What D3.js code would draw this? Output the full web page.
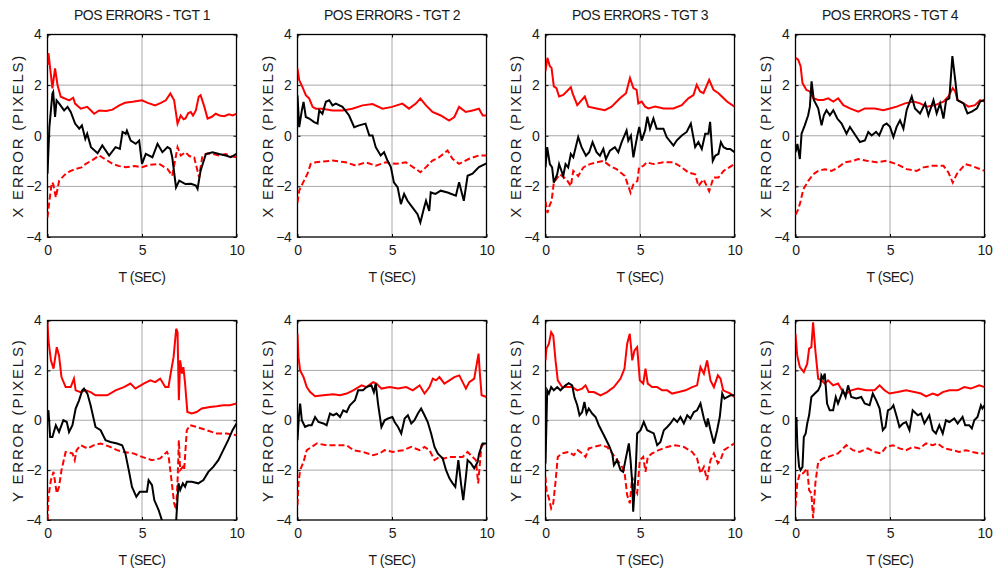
<!DOCTYPE html>
<html>
<head>
<meta charset="utf-8">
<script src="https://cdn.jsdelivr.net/npm/d3@7"></script>
<style>
  body { margin: 0; background: #fff; }
  text { font-family: "Liberation Sans", Arial, sans-serif; fill: #1a1a1a; }
</style>
</head>
<body>
<svg id="chart" width="994" height="579"></svg>
<script>
// titles / labels / ticks
const titles = ["POS ERRORS - TGT 1", "POS ERRORS - TGT 2", "POS ERRORS - TGT 3", "POS ERRORS - TGT 4"];
const yLabels = ["X ERROR (PIXELS)", "Y ERROR (PIXELS)"];
const xLabel = "T (SEC)";
const xTicks = [0, 5, 10];
const yTicks = [-4, -2, 0, 2, 4];

// series: [t (sec), error (pixels)]
// --- X errors ---
const x1Upper = [[0,2.8],[0.05,3.26],[0.26,1.87],[0.4,2.66],[0.53,2.0],[0.7,1.54],[1.15,1.4],[1.36,1.5],[1.46,1.27],[1.76,1.07],[2.1,1.14],[2.3,1.0],[2.47,0.87],[2.73,1.0],[3.1,0.98],[3.44,1.03],[3.8,1.2],[4.1,1.3],[4.5,1.34],[5.0,1.4],[5.3,1.3],[5.7,1.2],[6.0,1.3],[6.26,1.4],[6.5,1.67],[6.7,1.4],[6.88,0.48],[7.05,0.8],[7.2,0.65],[7.3,0.68],[7.45,0.9],[7.58,0.94],[7.7,0.8],[7.85,1.0],[8.0,1.54],[8.1,1.6],[8.3,1.14],[8.47,0.68],[8.7,0.75],[8.9,0.87],[9.1,0.8],[9.35,0.77],[9.6,0.85],[9.8,0.8],[10,0.87]];
const x1Lower = [[0,-3.23],[0.1,-2.57],[0.23,-1.84],[0.3,-1.9],[0.44,-2.44],[0.62,-1.77],[0.97,-1.5],[1.2,-1.4],[1.5,-1.31],[1.8,-1.25],[2.03,-1.11],[2.4,-0.95],[2.73,-0.78],[3.1,-0.95],[3.44,-1.11],[3.8,-1.2],[4.14,-1.24],[4.6,-1.2],[5.0,-1.24],[5.4,-1.15],[5.9,-1.11],[6.35,-1.31],[6.6,-1.58],[6.88,-0.45],[7.05,-0.78],[7.3,-0.65],[7.5,-0.8],[7.76,-0.85],[8.02,-1.64],[8.2,-0.78],[8.45,-0.7],[8.73,-0.72],[9.1,-0.78],[9.43,-0.72],[9.7,-0.8],[10,-0.85]];
const x1Err = [[0,-1.5],[0.1,0.34],[0.26,1.67],[0.3,1.73],[0.4,0.74],[0.48,1.4],[0.62,1.27],[0.88,1.0],[1.06,1.14],[1.23,0.94],[1.46,0.48],[1.68,0.28],[1.82,0.41],[2.0,-0.12],[2.1,0.08],[2.3,-0.45],[2.65,-0.69],[2.9,-0.38],[3.26,-0.78],[3.6,-0.45],[3.83,-0.52],[3.97,0.15],[4.14,0.08],[4.2,0.2],[4.4,-0.19],[4.67,-0.32],[4.85,-0.19],[5.0,-1.11],[5.2,-0.72],[5.55,-0.85],[5.82,-0.32],[6.08,-0.65],[6.35,-0.45],[6.5,-0.52],[6.6,-0.85],[6.8,-2.04],[6.97,-1.77],[7.3,-1.91],[7.6,-1.9],[7.85,-1.97],[7.94,-2.1],[8.1,-1.38],[8.38,-0.72],[8.73,-0.65],[9.08,-0.72],[9.43,-0.78],[9.7,-0.85],[10,-0.72]];

const x2Upper = [[0,2.66],[0.09,2.2],[0.26,1.93],[0.44,1.6],[0.62,1.47],[0.8,1.14],[0.97,1.07],[1.32,1.07],[1.85,1.0],[2.38,1.0],[2.9,1.07],[3.44,1.2],[3.97,1.25],[4.5,1.07],[5.0,1.14],[5.55,1.27],[5.9,1.07],[6.26,1.27],[6.5,1.47],[6.8,1.2],[7.14,0.94],[7.58,0.8],[8.02,0.6],[8.3,0.74],[8.55,1.14],[8.9,0.94],[9.26,1.0],[9.6,1.07],[9.8,0.8],[10,0.8]];
const x2Lower = [[0,-2.64],[0.09,-2.17],[0.26,-1.9],[0.53,-1.5],[0.7,-1.11],[0.97,-1.05],[1.85,-0.98],[2.56,-1.05],[3.09,-1.18],[3.6,-1.05],[4.14,-1.18],[4.67,-1.05],[5.2,-1.11],[5.73,-1.05],[6.26,-1.31],[6.5,-1.44],[6.8,-1.24],[7.14,-0.98],[7.5,-0.85],[7.94,-0.58],[8.2,-0.91],[8.55,-1.11],[9.08,-0.91],[9.6,-0.78],[10,-0.78]];
const x2Err = [[0,1.6],[0.09,0.34],[0.23,1.0],[0.32,1.34],[0.44,0.74],[0.62,0.68],[0.88,0.54],[1.06,0.48],[1.15,1.0],[1.32,0.87],[1.5,1.34],[1.68,1.4],[1.85,1.2],[2.03,1.27],[2.38,1.14],[2.73,0.8],[3.0,0.34],[3.26,0.41],[3.6,0.48],[3.8,0.01],[3.97,0.01],[4.14,-0.45],[4.4,-0.78],[4.58,-0.65],[4.76,-0.98],[4.94,-1.24],[5.1,-1.84],[5.3,-2.04],[5.47,-2.7],[5.64,-2.3],[5.82,-2.57],[6.08,-2.83],[6.35,-3.1],[6.5,-3.43],[6.7,-2.83],[6.8,-2.57],[6.97,-2.97],[7.05,-2.24],[7.3,-2.3],[7.58,-2.17],[7.94,-2.24],[8.38,-2.37],[8.55,-1.84],[8.8,-2.57],[9.0,-1.58],[9.26,-1.5],[9.6,-1.24],[10,-1.09]];

const x3Upper = [[0,2.55],[0.1,3.08],[0.23,2.75],[0.32,2.68],[0.44,1.95],[0.58,1.88],[0.72,1.55],[0.94,1.61],[1.2,1.81],[1.34,1.92],[1.43,1.68],[1.68,1.21],[2.08,1.55],[2.26,1.15],[2.7,1.08],[3.14,1.01],[3.5,1.15],[3.94,1.48],[4.26,1.68],[4.47,2.28],[4.65,1.88],[4.82,1.81],[4.91,1.28],[5.09,1.35],[5.27,1.15],[5.44,1.08],[5.8,1.15],[6.24,1.08],[6.77,1.08],[7.21,1.21],[7.56,1.48],[7.83,1.61],[8.0,2.01],[8.18,1.75],[8.36,1.68],[8.66,2.21],[8.89,1.81],[9.15,1.68],[9.33,1.55],[9.6,1.35],[10,1.15]];
const x3Lower = [[0,-2.59],[0.1,-3.05],[0.23,-2.72],[0.32,-2.59],[0.44,-1.85],[0.76,-1.52],[1.11,-1.72],[1.34,-1.99],[1.47,-1.39],[1.73,-1.59],[2.0,-1.25],[2.35,-1.12],[2.7,-1.05],[3.06,-0.99],[3.41,-1.19],[3.76,-1.32],[4.2,-1.59],[4.5,-2.25],[4.65,-1.92],[4.86,-1.79],[4.95,-1.25],[5.18,-1.19],[5.35,-1.05],[5.71,-1.12],[6.24,-1.05],[6.77,-1.05],[7.21,-1.25],[7.56,-1.45],[7.92,-1.52],[8.09,-1.99],[8.36,-1.72],[8.66,-2.19],[8.89,-1.65],[9.15,-1.65],[9.42,-1.39],[10,-1.12]];
const x3Err = [[0,-1.25],[0.09,-0.45],[0.23,-1.12],[0.35,-1.25],[0.44,-1.85],[0.62,-1.52],[0.72,-1.12],[0.94,-1.59],[1.06,-1.12],[1.2,-1.25],[1.34,-0.72],[1.47,-0.85],[1.73,-0.05],[1.91,-0.45],[2.14,-0.79],[2.31,-0.65],[2.49,-0.25],[2.7,-0.65],[2.88,-0.79],[3.06,-0.52],[3.2,-0.92],[3.41,-0.59],[3.67,-0.45],[3.85,-0.65],[4.03,-0.25],[4.29,0.21],[4.38,-0.19],[4.52,0.01],[4.65,-0.85],[4.73,-0.52],[4.86,0.01],[4.96,0.35],[5.09,-0.19],[5.27,0.21],[5.39,0.75],[5.53,0.28],[5.71,0.68],[5.88,0.28],[6.24,0.28],[6.41,-0.05],[6.77,-0.39],[6.94,-0.19],[7.21,0.01],[7.47,0.15],[7.69,0.48],[7.92,-0.45],[8.09,-0.25],[8.27,-0.52],[8.45,0.08],[8.62,0.08],[8.71,0.55],[8.85,-0.99],[8.98,-0.79],[9.15,-0.72],[9.28,-0.25],[9.42,-0.45],[9.6,-0.52],[9.77,-0.52],[10,-0.65]];

const x4Upper = [[0,3.08],[0.14,3.01],[0.27,2.75],[0.37,2.08],[0.58,1.81],[0.76,1.75],[0.94,1.48],[1.2,1.41],[1.47,1.41],[1.73,1.48],[2.0,1.35],[2.26,1.48],[2.53,1.21],[2.88,1.08],[3.32,0.95],[3.67,1.08],[4.2,1.08],[4.65,1.01],[5.0,1.08],[5.35,1.15],[5.8,1.28],[6.24,1.35],[6.59,1.28],[6.94,1.15],[7.39,1.21],[7.83,1.35],[8.09,1.55],[8.32,1.88],[8.45,1.75],[8.57,1.41],[8.89,1.28],[9.15,1.15],[9.5,1.21],[9.77,1.41],[10,1.35]];
const x4Lower = [[0,-3.12],[0.14,-2.92],[0.27,-2.59],[0.41,-2.12],[0.67,-1.79],[0.94,-1.52],[1.2,-1.39],[1.55,-1.32],[1.91,-1.39],[2.26,-1.25],[2.61,-1.05],[3.06,-0.99],[3.32,-0.92],[3.76,-0.99],[4.29,-1.05],[4.82,-0.99],[5.35,-1.12],[5.88,-1.32],[6.41,-1.39],[6.77,-1.25],[7.21,-1.19],[7.83,-1.19],[8.09,-1.45],[8.32,-1.85],[8.53,-1.52],[8.98,-1.12],[9.33,-1.19],[9.77,-1.32],[10,-1.39]];
const x4Err = [[0,-0.65],[0.1,-0.32],[0.23,-0.92],[0.32,0.08],[0.49,0.41],[0.67,0.81],[0.76,1.15],[0.85,2.15],[0.97,1.41],[1.2,1.08],[1.38,0.41],[1.5,0.81],[1.64,1.01],[1.82,0.81],[2.0,1.01],[2.21,0.68],[2.44,0.48],[2.7,0.08],[2.88,0.35],[3.23,-0.05],[3.41,-0.25],[3.67,-0.19],[3.85,0.15],[4.03,0.01],[4.26,0.15],[4.43,0.01],[4.65,0.41],[4.82,0.48],[5.0,0.35],[5.18,-0.05],[5.35,0.35],[5.53,0.61],[5.71,0.28],[5.88,1.01],[6.15,1.55],[6.32,1.08],[6.59,0.88],[6.86,1.28],[7.03,0.81],[7.3,1.41],[7.47,0.88],[7.65,1.28],[7.83,0.68],[7.97,1.41],[8.14,1.48],[8.3,3.15],[8.45,2.21],[8.57,1.41],[8.89,1.28],[9.1,0.88],[9.33,0.95],[9.6,1.08],[9.77,1.35],[10,1.41]];

// --- Y errors ---
const y1Upper = [[0,3.93],[0.05,3.2],[0.18,2.4],[0.32,2.07],[0.49,2.93],[0.61,2.6],[0.74,1.73],[0.96,1.33],[1.23,1.33],[1.4,1.67],[1.49,1.2],[1.75,1.13],[2.02,1.2],[2.28,1.13],[2.54,1.0],[2.81,1.0],[3.16,1.0],[3.6,1.2],[4.04,1.33],[4.39,1.47],[4.65,1.27],[5.09,1.47],[5.44,1.6],[5.7,1.53],[5.96,1.67],[6.23,1.33],[6.4,1.33],[6.53,1.93],[6.67,2.53],[6.81,3.67],[6.88,3.53],[6.95,0.8],[7.02,2.4],[7.12,1.87],[7.19,2.13],[7.28,1.47],[7.4,0.33],[7.63,0.27],[7.89,0.33],[8.16,0.47],[8.6,0.53],[8.95,0.56],[9.3,0.6],[9.65,0.6],[10,0.67]];
const y1Lower = [[0,-4.0],[0.05,-3.07],[0.18,-2.4],[0.32,-2.07],[0.49,-2.93],[0.61,-2.67],[0.74,-2.0],[0.96,-1.27],[1.32,-1.33],[1.44,-1.6],[1.54,-1.2],[1.75,-1.0],[2.11,-1.13],[2.46,-1.0],[2.81,-0.93],[3.33,-1.07],[3.68,-1.2],[4.04,-1.27],[4.56,-1.33],[5.0,-1.47],[5.53,-1.6],[5.96,-1.53],[6.32,-1.27],[6.4,-1.4],[6.58,-2.53],[6.7,-3.33],[6.81,-3.6],[6.89,-2.27],[6.95,-0.8],[7.02,-2.0],[7.16,-1.87],[7.23,-2.0],[7.37,-0.4],[7.54,-0.2],[7.89,-0.27],[8.42,-0.4],[8.95,-0.53],[9.47,-0.53],[10,-0.6]];
const y1Err = [[0,0.27],[0.05,0.4],[0.14,-0.67],[0.26,-0.67],[0.44,-0.2],[0.61,-0.47],[0.84,0.0],[1.02,-0.07],[1.14,-0.47],[1.32,-0.2],[1.49,0.47],[1.67,0.8],[1.84,1.2],[1.93,1.27],[2.11,1.07],[2.28,0.6],[2.54,-0.27],[2.81,-0.4],[3.07,-0.8],[3.33,-0.87],[3.68,-0.93],[3.95,-1.0],[4.12,-1.33],[4.3,-2.0],[4.47,-2.67],[4.7,-3.07],[4.88,-2.87],[5.09,-2.87],[5.26,-2.87],[5.35,-2.4],[5.53,-2.6],[5.65,-3.2],[5.88,-3.6],[6.05,-4.0],[6.3,-4.6],[6.6,-4.8],[6.81,-4.0],[6.93,-2.53],[7.02,-2.8],[7.16,-2.53],[7.28,-2.67],[7.37,-2.47],[7.63,-2.47],[7.98,-2.53],[8.25,-2.4],[8.51,-2.07],[8.77,-1.87],[9.04,-1.6],[9.3,-1.2],[9.56,-0.8],[9.79,-0.4],[10,-0.13]];

const y2Upper = [[0,3.47],[0.05,2.53],[0.14,2.0],[0.32,1.73],[0.49,1.33],[0.67,1.13],[0.93,0.96],[1.37,1.0],[1.89,1.04],[2.25,1.0],[2.6,1.07],[2.95,1.2],[3.39,1.4],[3.65,1.33],[4.0,1.53],[4.18,1.47],[4.44,1.27],[4.88,1.33],[5.32,1.27],[5.75,1.33],[6.1,1.2],[6.46,1.4],[6.72,1.07],[6.98,1.33],[7.16,1.67],[7.33,1.6],[7.51,1.73],[7.77,1.47],[8.04,1.6],[8.3,1.73],[8.56,1.8],[8.74,1.53],[8.91,1.27],[9.09,1.53],[9.35,1.67],[9.58,2.67],[9.65,1.87],[9.74,1.0],[10,0.93]];
const y2Lower = [[0,-3.4],[0.05,-2.53],[0.14,-2.0],[0.32,-1.67],[0.49,-1.2],[0.75,-1.07],[1.02,-0.93],[1.54,-1.0],[2.07,-1.0],[2.6,-1.0],[2.95,-1.2],[3.47,-1.27],[4.0,-1.4],[4.35,-1.33],[4.61,-1.2],[5.05,-1.27],[5.58,-1.2],[6.02,-1.07],[6.46,-1.2],[6.72,-1.07],[6.98,-1.2],[7.25,-1.6],[7.51,-1.47],[7.77,-1.53],[8.04,-1.47],[8.39,-1.47],[8.74,-1.47],[9.0,-1.27],[9.26,-1.47],[9.44,-1.6],[9.56,-2.53],[9.65,-1.73],[9.74,-1.0],[10,-0.93]];
const y2Err = [[0,-0.8],[0.07,0.13],[0.14,0.67],[0.23,0.0],[0.4,-0.27],[0.58,-0.2],[0.75,-0.2],[0.93,0.13],[1.11,-0.07],[1.37,-0.13],[1.54,-0.2],[1.72,0.27],[1.89,0.2],[2.07,0.27],[2.25,0.13],[2.42,0.4],[2.6,0.33],[2.77,0.6],[3.04,0.8],[3.21,1.2],[3.47,1.2],[3.65,1.33],[3.91,1.4],[4.04,1.13],[4.14,1.47],[4.26,0.67],[4.44,-0.27],[4.61,0.0],[4.79,0.07],[5.02,0.13],[5.14,-0.07],[5.32,-0.27],[5.49,-0.53],[5.67,0.07],[5.84,0.2],[6.02,-0.13],[6.19,0.0],[6.37,0.27],[6.54,0.47],[6.72,0.2],[6.89,-0.07],[7.07,-0.53],[7.25,-1.07],[7.42,-1.33],[7.68,-1.53],[7.86,-2.0],[8.04,-2.33],[8.21,-2.53],[8.35,-2.67],[8.51,-1.6],[8.65,-2.53],[8.77,-3.2],[8.91,-2.27],[9.0,-1.6],[9.18,-1.73],[9.35,-1.93],[9.53,-1.67],[9.61,-1.33],[9.79,-0.93],[10,-0.93]];

const y3Upper = [[0,2.4],[0.05,2.87],[0.18,3.07],[0.3,3.53],[0.41,3.4],[0.53,2.4],[0.65,1.6],[0.88,1.33],[1.15,1.33],[1.41,1.33],[1.68,1.2],[1.94,1.27],[2.12,1.4],[2.29,1.13],[2.56,1.13],[2.91,1.0],[3.26,1.13],[3.62,1.33],[3.97,1.67],[4.18,2.07],[4.32,3.07],[4.46,3.47],[4.59,2.4],[4.71,2.8],[4.85,2.93],[4.99,1.6],[5.17,1.47],[5.29,2.07],[5.41,1.47],[5.64,1.33],[5.91,1.33],[6.17,1.2],[6.44,1.2],[6.7,1.07],[7.05,1.13],[7.41,1.2],[7.76,1.33],[8.02,1.4],[8.2,2.13],[8.38,1.87],[8.55,2.4],[8.73,1.6],[8.91,1.33],[9.12,1.8],[9.26,1.67],[9.4,1.2],[9.61,1.13],[9.79,1.07],[10,0.93]];
const y3Lower = [[0,-2.27],[0.05,-2.8],[0.18,-3.13],[0.3,-3.53],[0.41,-3.33],[0.53,-2.47],[0.65,-1.47],[0.88,-1.33],[1.23,-1.27],[1.5,-1.4],[1.71,-1.2],[1.94,-1.33],[2.12,-1.47],[2.29,-1.13],[2.56,-1.07],[2.91,-1.0],[3.26,-1.07],[3.53,-1.33],[3.79,-1.6],[4.0,-1.8],[4.18,-2.07],[4.32,-3.0],[4.46,-3.33],[4.59,-2.27],[4.71,-2.73],[4.85,-2.93],[4.99,-1.6],[5.17,-1.47],[5.29,-2.07],[5.41,-1.47],[5.64,-1.33],[5.99,-1.2],[6.44,-1.07],[6.88,-1.0],[7.32,-1.07],[7.76,-1.27],[8.02,-1.53],[8.2,-2.13],[8.38,-1.87],[8.55,-2.4],[8.73,-1.6],[8.91,-1.33],[9.12,-1.73],[9.26,-1.6],[9.44,-1.2],[9.7,-1.07],[10,-0.93]];
const y3Err = [[0,-1.73],[0.09,1.2],[0.18,1.07],[0.3,1.33],[0.44,1.2],[0.62,1.33],[0.79,1.2],[1.06,1.4],[1.23,1.49],[1.41,1.4],[1.53,0.93],[1.68,0.6],[1.8,0.2],[1.94,0.33],[2.06,0.73],[2.17,0.27],[2.29,0.47],[2.47,0.27],[2.65,0.13],[2.82,-0.2],[3.09,-0.6],[3.35,-1.0],[3.53,-1.33],[3.62,-1.8],[3.79,-1.6],[3.97,-2.0],[4.11,-2.07],[4.23,-1.6],[4.41,-0.93],[4.5,-1.6],[4.59,-2.53],[4.64,-3.67],[4.71,-2.8],[4.78,-1.87],[4.85,-0.53],[5.03,-0.4],[5.2,-0.07],[5.38,-0.4],[5.56,-0.47],[5.73,-0.53],[5.91,-1.0],[6.08,-0.87],[6.26,-0.4],[6.44,-0.27],[6.61,-0.13],[6.79,0.07],[6.97,-0.07],[7.14,0.13],[7.32,-0.13],[7.5,0.2],[7.67,0.07],[7.85,0.33],[8.02,0.4],[8.2,0.67],[8.38,0.07],[8.52,-0.27],[8.59,0.07],[8.73,-0.4],[8.91,-0.93],[9.08,-0.4],[9.22,0.13],[9.35,1.07],[9.47,0.87],[9.61,0.93],[9.79,1.0],[10,1.0]];

const y4Upper = [[0,3.47],[0.09,2.6],[0.23,2.13],[0.44,1.93],[0.62,2.27],[0.72,2.87],[0.84,2.93],[0.93,3.93],[1.05,2.8],[1.2,1.67],[1.37,1.6],[1.55,1.47],[1.72,1.6],[1.99,1.4],[2.25,1.47],[2.51,1.13],[2.69,1.07],[2.95,1.2],[3.3,1.27],[3.74,1.2],[4.18,1.2],[4.45,1.4],[4.71,1.2],[4.97,1.07],[5.41,1.13],[5.85,1.2],[6.29,1.13],[6.64,1.07],[6.91,0.96],[7.26,1.07],[7.52,1.0],[7.79,1.13],[8.14,1.2],[8.58,1.2],[8.93,1.33],[9.28,1.27],[9.72,1.4],[10,1.33]];
const y4Lower = [[0,-3.47],[0.09,-2.53],[0.23,-2.13],[0.4,-2.13],[0.62,-1.93],[0.72,-2.8],[0.84,-2.93],[0.93,-3.93],[1.05,-2.53],[1.2,-1.67],[1.46,-1.53],[1.72,-1.47],[1.99,-1.4],[2.25,-1.33],[2.69,-1.0],[3.04,-1.2],[3.39,-1.27],[3.83,-1.13],[4.18,-1.27],[4.53,-1.33],[4.8,-1.07],[5.15,-1.0],[5.5,-1.13],[5.85,-1.2],[6.2,-1.07],[6.56,-1.13],[6.91,-0.93],[7.26,-1.0],[7.52,-0.93],[7.87,-1.13],[8.31,-1.2],[8.66,-1.27],[9.02,-1.2],[9.37,-1.27],[9.72,-1.33],[10,-1.33]];
const y4Err = [[0,-0.67],[0.05,0.13],[0.1,-1.07],[0.19,-1.87],[0.26,-2.0],[0.37,-1.87],[0.44,-0.67],[0.54,-0.53],[0.62,-0.13],[0.72,0.2],[0.84,0.93],[1.02,1.07],[1.2,1.2],[1.32,1.4],[1.37,1.8],[1.46,1.67],[1.55,1.87],[1.67,0.67],[1.81,0.4],[1.99,0.4],[2.13,0.93],[2.25,0.67],[2.51,1.2],[2.65,0.93],[2.78,1.4],[2.95,0.93],[3.22,0.87],[3.48,0.93],[3.66,0.67],[3.92,0.6],[4.09,1.07],[4.27,0.8],[4.45,0.47],[4.62,-0.4],[4.76,-0.27],[4.89,0.4],[5.06,0.47],[5.18,0.6],[5.36,0.13],[5.5,-0.27],[5.68,-0.13],[5.85,-0.07],[6.03,-0.4],[6.2,0.4],[6.47,0.2],[6.64,0.27],[6.82,-0.13],[7.08,0.2],[7.26,-0.4],[7.43,-0.53],[7.61,-0.2],[7.79,-0.53],[7.96,0.0],[8.14,-0.07],[8.4,0.07],[8.58,-0.13],[8.84,0.13],[8.98,-0.2],[9.19,-0.2],[9.33,-0.33],[9.46,0.0],[9.63,0.13],[9.81,0.6],[9.89,0.47],[10,0.6]];

const panels = [
  { row: 0, col: 0, upper: x1Upper, lower: x1Lower, err: x1Err },
  { row: 0, col: 1, upper: x2Upper, lower: x2Lower, err: x2Err },
  { row: 0, col: 2, upper: x3Upper, lower: x3Lower, err: x3Err },
  { row: 0, col: 3, upper: x4Upper, lower: x4Lower, err: x4Err },
  { row: 1, col: 0, upper: y1Upper, lower: y1Lower, err: y1Err },
  { row: 1, col: 1, upper: y2Upper, lower: y2Lower, err: y2Err },
  { row: 1, col: 2, upper: y3Upper, lower: y3Lower, err: y3Err },
  { row: 1, col: 3, upper: y4Upper, lower: y4Lower, err: y4Err }
];

// layout
const colLeft = [47.5, 297.5, 545.5, 795.5];
const plotW = 189;
const rowTop = [34.5, 320.5];
const rowBottom = [237, 520];

const svg = d3.select("#chart");

panels.forEach((p, i) => {
  const x0 = colLeft[p.col], y0 = rowTop[p.row], h = rowBottom[p.row] - y0;
  const x = d3.scaleLinear().domain([0, 10]).range([0, plotW]);
  const y = d3.scaleLinear().domain([-4, 4]).range([h, 0]);

  const g = svg.append("g").attr("transform", `translate(${x0},${y0})`);

  g.append("clipPath").attr("id", "clip" + i)
    .append("rect").attr("width", plotW).attr("height", h);

  // grid (dotted)
  g.append("g").selectAll("line").data(xTicks.slice(1, -1)).enter().append("line")
    .attr("x1", d => x(d)).attr("x2", d => x(d)).attr("y1", 0).attr("y2", h)
    .attr("stroke", "#555").attr("stroke-width", 1).attr("stroke-dasharray", "1,1");
  g.append("g").selectAll("line").data(yTicks.slice(1, -1)).enter().append("line")
    .attr("y1", d => y(d)).attr("y2", d => y(d)).attr("x1", 0).attr("x2", plotW)
    .attr("stroke", "#555").attr("stroke-width", 1).attr("stroke-dasharray", "1,1");

  // axes, matlab style: ticks inward on all four sides
  const tk = 3;
  g.append("g").attr("transform", `translate(0,${h})`)
    .call(d3.axisBottom(x).tickValues(xTicks).tickSize(-tk).tickPadding(8))
    .call(a => a.select(".domain").remove());
  g.append("g")
    .call(d3.axisTop(x).tickValues(xTicks).tickSize(-tk).tickFormat(""))
    .call(a => a.select(".domain").remove());
  g.append("g")
    .call(d3.axisLeft(y).tickValues(yTicks).tickSize(-tk).tickPadding(6))
    .call(a => a.select(".domain").remove());
  g.append("g").attr("transform", `translate(${plotW},0)`)
    .call(d3.axisRight(y).tickValues(yTicks).tickSize(-tk).tickFormat(""))
    .call(a => a.select(".domain").remove());
  g.selectAll(".tick text").attr("font-size", 14).attr("font-family", "Liberation Sans, Arial, sans-serif")
    .attr("fill", "#1a1a1a").attr("letter-spacing", "-0.3px");
  g.selectAll(".tick line").attr("stroke", "#000");

  // box
  g.append("rect").attr("width", plotW).attr("height", h)
    .attr("fill", "none").attr("stroke", "#000").attr("stroke-width", 1.3);

  // series
  const line = d3.line().x(d => x(d[0])).y(d => y(d[1]));
  const plot = g.append("g").attr("clip-path", `url(#clip${i})`);
  plot.append("path").datum(p.lower).attr("d", line)
    .attr("fill", "none").attr("stroke", "#ff0000").attr("stroke-width", 2)
    .attr("stroke-dasharray", "6,3");
  plot.append("path").datum(p.upper).attr("d", line)
    .attr("fill", "none").attr("stroke", "#ff0000").attr("stroke-width", 2);
  plot.append("path").datum(p.err).attr("d", line)
    .attr("fill", "none").attr("stroke", "#000").attr("stroke-width", 2);

  // labels
  if (p.row === 0) {
    g.append("text").attr("x", plotW / 2).attr("y", -15).attr("text-anchor", "middle")
      .attr("font-size", 14).attr("letter-spacing", "-0.5px").text(titles[p.col]);
  }
  g.append("text").attr("x", plotW / 2).attr("y", h + 45).attr("text-anchor", "middle")
    .attr("font-size", 14).attr("letter-spacing", "-0.5px").text(xLabel);
  g.append("text")
    .attr("transform", `translate(-25,${h / 2}) rotate(-90)`)
    .attr("text-anchor", "middle").attr("font-size", 15).attr("letter-spacing", "1.8px")
    .text(yLabels[p.row]);
});
</script>
</body>
</html>
